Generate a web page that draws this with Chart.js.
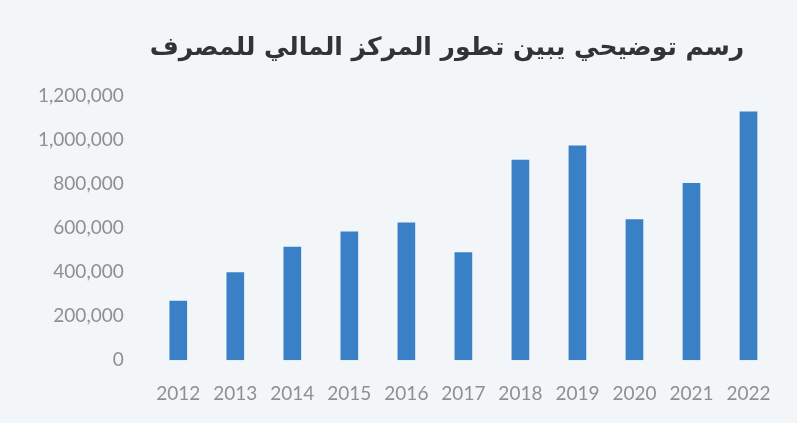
<!DOCTYPE html>
<html>
<head>
<meta charset="utf-8">
<script src="https://cdn.jsdelivr.net/npm/chart.js@4.4.1/dist/chart.umd.min.js"></script>
<style>
  html, body { margin: 0; padding: 0; background: #f3f6f9; }
  #wrap { width: 797px; height: 423px; }
</style>
</head>
<body>
<div id="wrap"><canvas id="chart"></canvas></div>
<script>
// financial position of the bank
const years = ["2012", "2013", "2014", "2015", "2016", "2017", "2018", "2019", "2020", "2021", "2022"];
const values = [270000, 400000, 515000, 585000, 625000, 490000, 910000, 975000, 640000, 805000, 1130000];
const yTicks = [0, 200000, 400000, 600000, 800000, 1000000, 1200000];
const titleText = "رسم توضيحي يبين تطور المركز المالي للمصرف";

const BAR = "#3a80c6";
const MUTED = "#8d9090";

new Chart(document.getElementById("chart"), {
  type: "bar",
  data: {
    labels: years,
    datasets: [{ data: values, backgroundColor: BAR, barPercentage: 0.31, categoryPercentage: 1 }],
  },
  options: {
    responsive: true,
    maintainAspectRatio: false,
    animation: false,
    layout: { padding: { top: 33, right: 20, bottom: 4, left: 20 } },
    plugins: {
      legend: { display: false },
      tooltip: { enabled: false },
      title: {
        display: true,
        text: titleText,
        fullSize: false,
        align: "start",
        color: "#333333",
        font: { family: "DejaVu Sans", size: 25, weight: "bold" },
        padding: { top: 0, bottom: 33 },
      },
    },
    scales: {
      x: {
        grid: { display: false },
        border: { display: false },
        ticks: { color: MUTED, padding: 14, font: { family: "Lato", size: 19 } },
      },
      y: {
        min: 0,
        max: 1200000,
        afterBuildTicks: (axis) => { axis.ticks = yTicks.map((v) => ({ value: v })); },
        grid: { display: false },
        border: { display: false },
        ticks: {
          color: MUTED,
          padding: 18,
          font: { family: "Lato", size: 19 },
          callback: (v) => v.toLocaleString("en-US"),
        },
      },
    },
  },
});
</script>
</body>
</html>
